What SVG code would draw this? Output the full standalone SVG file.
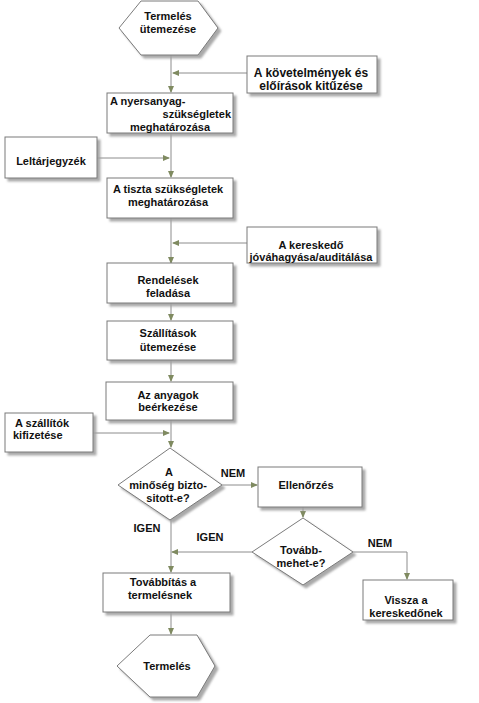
<svg xmlns="http://www.w3.org/2000/svg" width="479" height="703" viewBox="0 0 479 703">
<defs>
<style>
.s{fill:#fff;stroke:#7a7a7a;stroke-width:1;filter:url(#sh)}
.t{font-family:"Liberation Sans",Arial,sans-serif;font-weight:bold;font-size:11px;fill:#111;text-anchor:middle}
.l{fill:none;stroke:#8c8c8c;stroke-width:1}
.a{marker-end:url(#ar)}
</style>
<filter id="sh" x="-10%" y="-10%" width="130%" height="130%">
<feDropShadow dx="3" dy="3" stdDeviation="1" flood-color="#a0a0a0" flood-opacity="0.9"/>
</filter>
<marker id="ar" markerWidth="7" markerHeight="6" refX="6" refY="3" orient="auto" markerUnits="userSpaceOnUse">
<path d="M0,0 L7,3 L0,6 Z" fill="#7f8a60"/>
</marker>
</defs>
<rect width="479" height="703" fill="#fff"/>

<g id="connectors">
<path class="l a" d="M171,55 V92"/>
<path class="l a" d="M247,73 H173"/>
<path class="l a" d="M171,133 V177"/>
<path class="l a" d="M97,158 H169"/>
<path class="l a" d="M171,218 V263"/>
<path class="l a" d="M247,243 H173"/>
<path class="l a" d="M171,303 V320"/>
<path class="l a" d="M171,360 V381"/>
<path class="l a" d="M93,433 H169"/>
<path class="l a" d="M171,420 V447"/>
<path class="l a" d="M222,485 H257"/>
<path class="l a" d="M303,507 V517"/>
<path class="l a" d="M252,552 H172"/>
<path class="l a" d="M171,520 V572"/>
<path class="l a" d="M353,552 H407 V579"/>
<path class="l a" d="M171,612 V634"/>
</g>

<g id="n-termeles-utemezese">
<polygon class="s" points="119,28 141,1 198,1 218,28 198,55 141,55"/>
<text class="t" x="168" y="20">Termelés</text>
<text class="t" x="168" y="33">ütemezése</text>
</g>

<g id="n-kovetelmenyek">
<rect class="s" x="247" y="56" width="130" height="37"/>
<text class="t" x="311" y="77" style="font-size:12px">A követelmények és</text>
<text class="t" x="311" y="90" style="font-size:12px">előírások kitűzése</text>
</g>

<g id="n-nyersanyag">
<rect class="s" x="107" y="93" width="126" height="40"/>
<text class="t" x="110" y="105" style="text-anchor:start">A nyersanyag-</text>
<text class="t" x="231" y="118" style="text-anchor:end">szükségletek</text>
<text class="t" x="170" y="131">meghatározása</text>
</g>

<g id="n-leltar">
<rect class="s" x="5" y="137" width="92" height="41"/>
<text class="t" x="51" y="165">Leltárjegyzék</text>
</g>

<g id="n-tiszta">
<rect class="s" x="107" y="178" width="126" height="40"/>
<text class="t" x="168" y="193">A tiszta szükségletek</text>
<text class="t" x="168" y="206">meghatározása</text>
</g>

<g id="n-keresked">
<rect class="s" x="247" y="227" width="130" height="36"/>
<text class="t" x="311" y="249">A kereskedő</text>
<text class="t" x="311" y="261">jóváhagyása/auditálása</text>
</g>

<g id="n-rendelesek">
<rect class="s" x="107" y="263" width="126" height="40"/>
<text class="t" x="168" y="284">Rendelések</text>
<text class="t" x="168" y="297">feladása</text>
</g>

<g id="n-szallitasok">
<rect class="s" x="107" y="321" width="126" height="39"/>
<text class="t" x="168" y="337">Szállítások</text>
<text class="t" x="168" y="351">ütemezése</text>
</g>

<g id="n-anyagok">
<rect class="s" x="106" y="382" width="127" height="38"/>
<text class="t" x="168" y="399">Az anyagok</text>
<text class="t" x="168" y="411">beérkezése</text>
</g>

<g id="n-szallitok">
<rect class="s" x="5" y="413" width="88" height="39"/>
<text class="t" x="15" y="427" style="text-anchor:start">A szállítók</text>
<text class="t" x="13" y="439" style="text-anchor:start">kifizetése</text>
</g>

<g id="n-minoseg">
<polygon class="s" points="170,448 222,485 170,520 118,485"/>
<text class="t" x="169" y="476">A</text>
<text class="t" x="168" y="489">minőség bizto-</text>
<text class="t" x="168" y="502">sitott-e?</text>
</g>

<g id="n-ellenorzes">
<rect class="s" x="258" y="467" width="104" height="40"/>
<text class="t" x="306" y="489">Ellenőrzés</text>
</g>

<g id="n-tovabbmehet">
<polygon class="s" points="303,518 353,552 303,585 252,552"/>
<text class="t" x="301" y="554">Tovább-</text>
<text class="t" x="301" y="567">mehet-e?</text>
</g>

<g id="n-tovabbitas">
<rect class="s" x="103" y="573" width="127" height="39"/>
<text class="t" x="163" y="586">Továbbítás a</text>
<text class="t" x="160" y="599">termelésnek</text>
</g>

<g id="n-vissza">
<rect class="s" x="363" y="580" width="90" height="40"/>
<text class="t" x="406" y="604">Vissza a</text>
<text class="t" x="406" y="617">kereskedőnek</text>
</g>

<g id="n-termeles">
<polygon class="s" points="117,666 150,635 197,635 215,666 197,697 150,697"/>
<text class="t" x="167" y="670">Termelés</text>
</g>

<g id="labels">
<text class="t" x="233" y="477">NEM</text>
<text class="t" x="147" y="532">IGEN</text>
<text class="t" x="210" y="541">IGEN</text>
<text class="t" x="380" y="547">NEM</text>
</g>
</svg>
